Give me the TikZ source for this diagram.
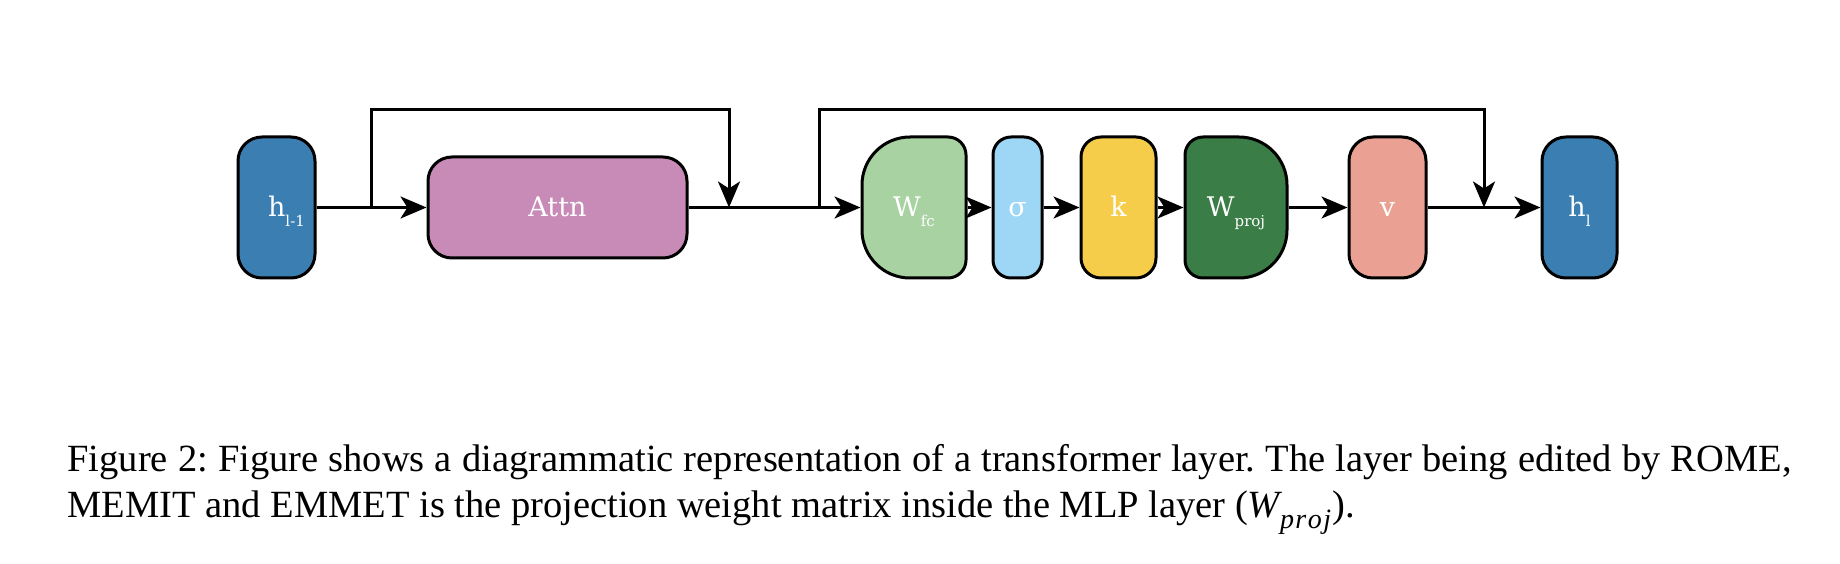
\documentclass[tikz,border=0pt]{standalone}
\usepackage{fontspec}
\setmainfont{Liberation Serif}
\newfontfamily\boxfont{DejaVu Serif}
\usetikzlibrary{arrows.meta}
\frenchspacing

\definecolor{hblue}{HTML}{3B7EB2}
\definecolor{attnpink}{HTML}{C88BB7}
\definecolor{fcgreen}{HTML}{A9D2A3}
\definecolor{sigblue}{HTML}{9ED6F5}
\definecolor{keyyellow}{HTML}{F6CD4A}
\definecolor{projgreen}{HTML}{3A7D46}
\definecolor{valpink}{HTML}{EAA194}

\newcommand{\lowsub}[1]{\raisebox{-10pt}[0pt][0pt]{\fontsize{15}{15}\selectfont #1}}

\tikzset{
  block/.style={draw, rounded corners=24pt, minimum height=141pt, inner sep=0pt,
    text=white, font=\boxfont\fontsize{27}{27}\selectfont, text height=19pt, text depth=0pt},
  capline/.style={anchor=base west, inner sep=0pt, font=\fontsize{38.5}{46}\selectfont}
}

\begin{document}
\begin{tikzpicture}[x=1pt, y=-1pt, line width=3pt, >={Stealth[length=26pt,width=22pt,inset=7pt]}]
  \useasboundingbox (0,0) rectangle (1840,564);

  \node[block, fill=hblue, minimum width=77pt] (hprev) at (276.5,207.5) {\hspace*{20pt}h\lowsub{l-1}};
  \node[block, fill=attnpink, minimum width=259pt, minimum height=101pt] (attn) at (557.5,207.5) {Attn};

  \filldraw[fill=fcgreen] (948,137) -- (910,137) arc[start angle=90, end angle=180, radius=48pt]
    -- (862,230) arc[start angle=180, end angle=270, radius=48pt]
    -- (948,278) arc[start angle=270, end angle=360, radius=18pt]
    -- (966,155) arc[start angle=0, end angle=90, radius=18pt] -- cycle;
  \node[block, draw=none, minimum width=104pt] (wfc) at (914,207.5) {W\lowsub{fc}};
  \node[block, fill=sigblue, rounded corners=18pt, minimum width=49pt] (sig) at (1017.5,207.5) {σ};
  \node[block, fill=keyyellow, rounded corners=20pt, minimum width=75pt] (key) at (1118.5,207.5) {k};
  \filldraw[fill=projgreen] (1239,137) -- (1203,137) arc[start angle=90, end angle=180, radius=18pt]
    -- (1185,260) arc[start angle=180, end angle=270, radius=18pt]
    -- (1239,278) arc[start angle=270, end angle=360, radius=48pt]
    -- (1287,185) arc[start angle=0, end angle=90, radius=48pt] -- cycle;
  \node[block, draw=none, minimum width=102pt] (wproj) at (1236,207.5) {W\lowsub{proj}};
  \node[block, fill=valpink, minimum width=77pt] (val) at (1387.5,207.5) {v};
  \node[block, fill=hblue, minimum width=75pt] (hnext) at (1579.5,207.5) {h\lowsub{l}};

  \coordinate (split1) at (371,207.5);
  \coordinate (merge1) at (729,207.5);
  \coordinate (split2) at (819,207.5);
  \coordinate (merge2) at (1484,207.5);

  \draw[->] (hprev) -- (attn);
  \draw[->] (split1) -- ++(0,-98) -| (merge1);
  \draw[->] (attn) -- (wfc);
  \draw[->] (split2) -- ++(0,-98) -| (merge2);
  \draw[->] (wfc) -- (sig);
  \draw[->] (sig) -- (key);
  \draw[->] (key) -- (wproj);
  \draw[->] (wproj) -- (val);
  \draw[->] (val) -- (hnext);

  \node[capline] (capone) at (66,471) {\makebox[1724pt][s]{Figure 2: Figure shows a diagrammatic representation of a transformer layer. The layer being edited by ROME,}};
  \node[capline] (captwo) at (66,517) {MEMIT and EMMET is the projection weight matrix inside the MLP layer ({\itshape W}\raisebox{-0.3em}{\fontsize{28}{28}\selectfont\itshape p\kern1.5pt r\kern1.5pt o\kern1.5pt j}\kern1pt).};
\end{tikzpicture}
\end{document}
